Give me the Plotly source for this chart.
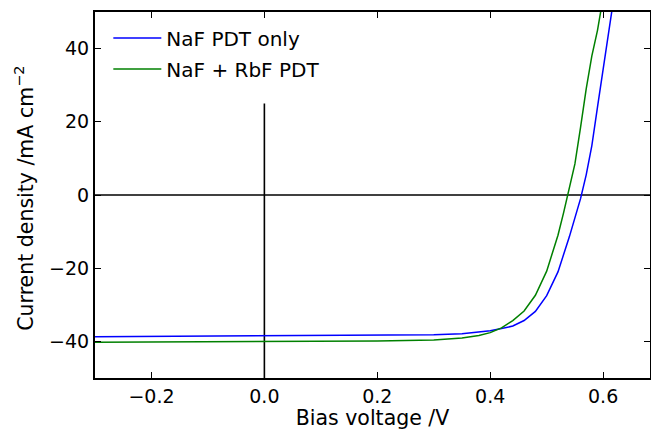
import plotly.graph_objects as go

v_naf = [-0.3, -0.2, -0.1, 0.0, 0.1, 0.2, 0.3, 0.35, 0.38, 0.40, 0.42, 0.44, 0.46, 0.48,
         0.50, 0.52, 0.54, 0.55, 0.56, 0.57, 0.58, 0.59, 0.60, 0.61, 0.62]
j_naf = [-38.7, -38.65, -38.6, -38.5, -38.45, -38.4, -38.2, -37.9, -37.5, -37.1, -36.5, -35.8,
         -34.3, -31.8, -27.5, -21.0, -11.5, -6.0, -1.0, 5.5, 13.5, 24.0, 34.0, 44.0, 55.0]

v_rbf = [-0.3, -0.2, -0.1, 0.0, 0.1, 0.2, 0.3, 0.35, 0.38, 0.40, 0.42, 0.44, 0.46, 0.48,
         0.50, 0.52, 0.53, 0.54, 0.55, 0.56, 0.57, 0.58, 0.59, 0.60]
j_rbf = [-40.2, -40.15, -40.1, -40.05, -40.0, -39.9, -39.6, -39.1, -38.4, -37.6, -36.3, -34.3,
         -31.7, -27.4, -20.8, -11.0, -4.8, 1.5, 8.5, 18.5, 29.0, 38.0, 45.0, 54.0]

x_ticks = [-0.2, 0.0, 0.2, 0.4, 0.6]
y_ticks = [-40, -20, 0, 20, 40]
x_range = [-0.3, 0.683]
y_range = [-50, 50]
x_title = "Bias voltage /V"
y_title = "Current density /mA cm<sup>\u22122</sup>"

FS = 19
TFS = 20.5
LFS = 20
fig = go.Figure()
fig.add_trace(go.Scatter(x=x_range, y=[0, 0], mode="lines", line=dict(color="black", width=1.6),
                         showlegend=False, hoverinfo="skip"))
fig.add_trace(go.Scatter(x=[0, 0], y=[-50, 25], mode="lines", line=dict(color="black", width=1.6),
                         showlegend=False, hoverinfo="skip"))
fig.add_trace(go.Scatter(x=v_naf, y=j_naf, mode="lines", name="NaF PDT only",
                         line=dict(color="#0000ff", width=1.5), legendgroup="a"))
fig.add_trace(go.Scatter(x=v_rbf, y=j_rbf, mode="lines", name="NaF + RbF PDT",
                         line=dict(color="#008000", width=1.5), legendgroup="b"))

axis_common = dict(showgrid=False, zeroline=False, showline=True, linecolor="black", linewidth=2,
                   mirror="allticks", ticks="inside", ticklen=6, tickcolor="black", tickwidth=1,
                   automargin=False,
                   tickfont=dict(family="DejaVu Sans", size=FS, color="black"))

fig.update_xaxes(range=x_range, tickvals=x_ticks, ticktext=["\u22120.2", "0.0", "0.2", "0.4", "0.6"],
                 title=dict(text=x_title, font=dict(family="DejaVu Sans", size=TFS, color="black"),
                            standoff=15),
                 **axis_common)
fig.update_yaxes(range=y_range, tickvals=y_ticks, ticktext=["\u221240", "\u221220", "0", "20", "40"],
                 **axis_common)

fig.add_annotation(text=y_title, xref="paper", yref="paper", x=-0.126, y=0.49,
                   xanchor="center", yanchor="middle", textangle=-90, showarrow=False,
                   font=dict(family="DejaVu Sans", size=TFS, color="black"))

fig.update_layout(
    width=651, height=430,
    margin=dict(l=95, r=1, t=12, b=52),
    plot_bgcolor="white", paper_bgcolor="white",
    font=dict(family="DejaVu Sans", size=FS, color="black"),
    legend=dict(x=0.024, y=0.982, xanchor="left", yanchor="top", bgcolor="rgba(0,0,0,0)",
                font=dict(family="DejaVu Sans", size=LFS, color="black"),
                traceorder="grouped", tracegroupgap=2, itemwidth=48),
)

fig.write_html("out.html")
